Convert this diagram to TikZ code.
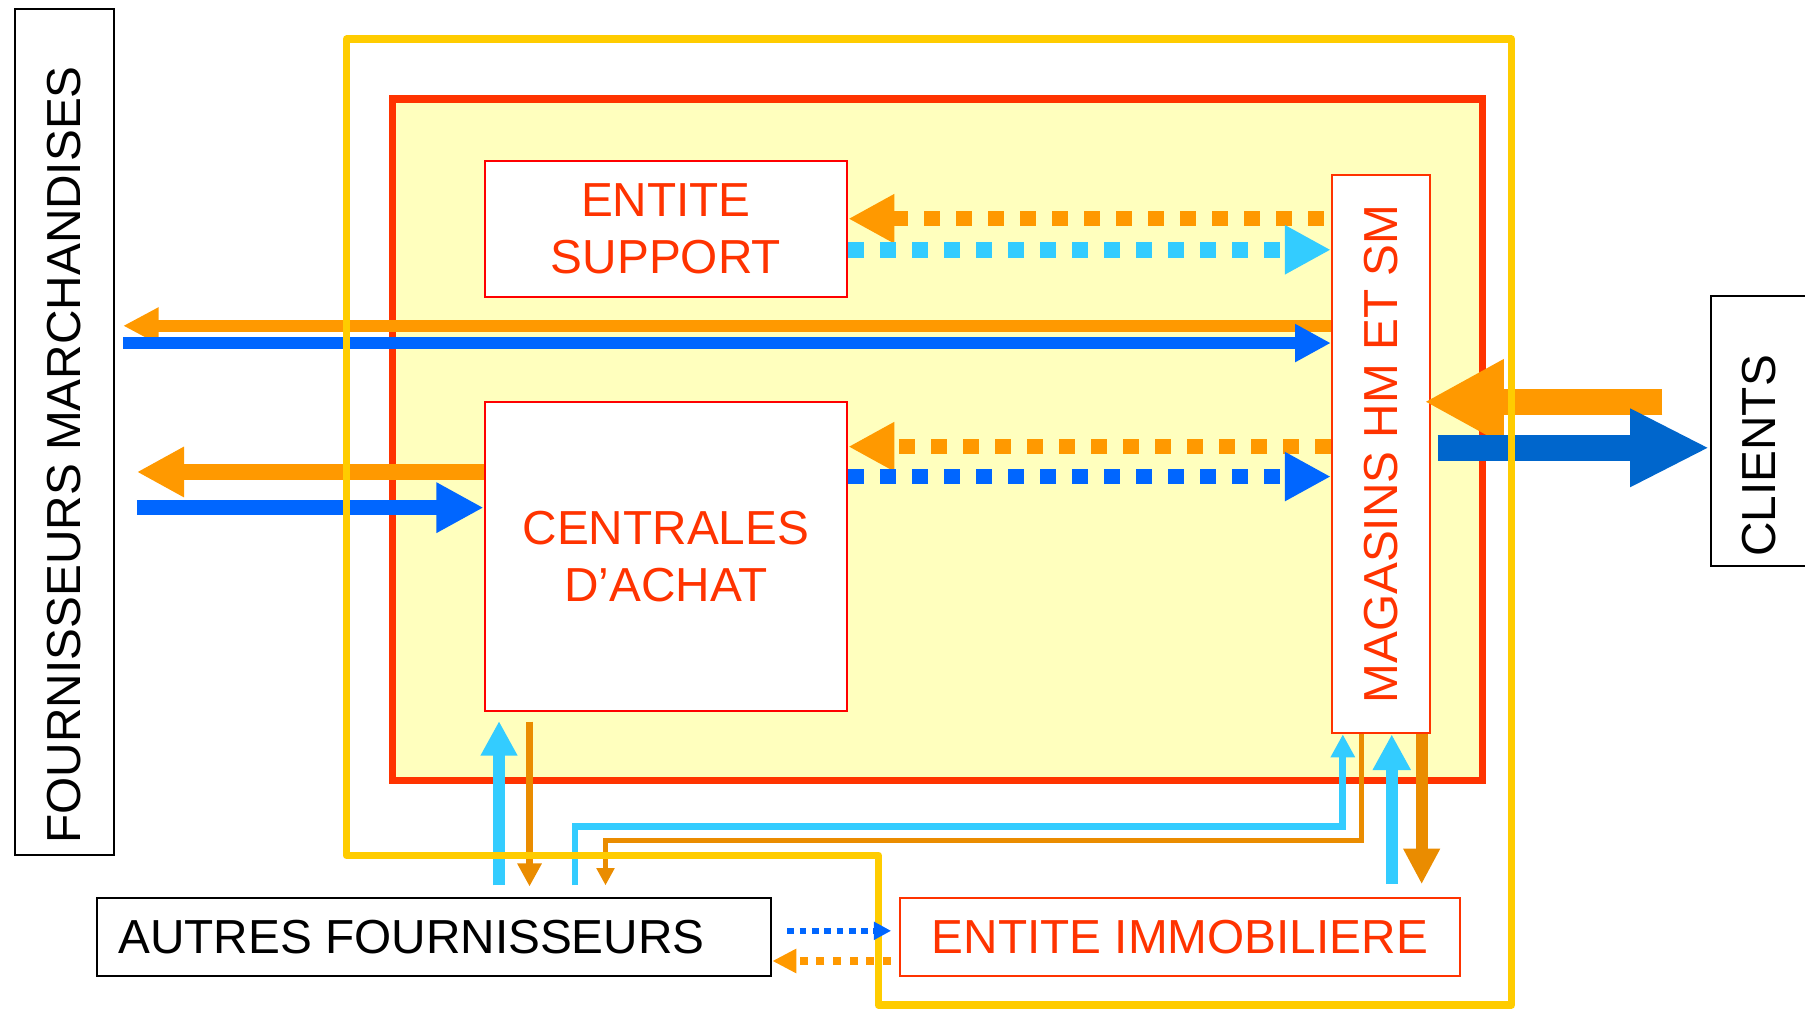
\documentclass[tikz,border=0pt]{standalone}
\usepackage{fontspec}
\setmainfont{Liberation Sans}
\usepackage{graphicx}
\usetikzlibrary{arrows.meta}

\definecolor{flowor}{RGB}{255,153,0}
\definecolor{flowdkor}{RGB}{234,140,0}
\definecolor{flowblue}{RGB}{0,102,255}
\definecolor{flowdkblue}{RGB}{0,102,204}
\definecolor{flowcyan}{RGB}{51,204,255}
\definecolor{framered}{RGB}{255,51,0}
\definecolor{frameyel}{RGB}{255,204,0}
\definecolor{framefill}{RGB}{255,255,190}

\begin{document}
\begin{tikzpicture}[x=0.1mm, y=-0.1mm,
        txt/.style={font=\fontsize{11.8}{14.1}\selectfont, inner sep=0pt},
        redbox/.style={txt, draw=red, line width=0.18mm, fill=white, text=framered},
        blackbox/.style={txt, draw=black, line width=0.18mm, fill=white},
        dots/.style={line width=1.35mm, dash pattern=on 1.37mm off 1.41mm, -{Triangle[length=4mm,width=4mm]}}]
        \clip (0,0) rectangle (1568,876);

        % Group frame
        \filldraw[draw=framered, fill=framefill, line width=0.65mm] (341,86) rectangle (1288,678);

        % Entities
        \node[redbox, align=center, minimum width=31.5mm, minimum height=11.8mm] (sup) at (578.5,199) {ENTITE\\SUPPORT};
        \node[redbox, align=center, minimum width=31.5mm, minimum height=26.9mm] (cen) at (578.5,483.5) {CENTRALES\\D’ACHAT};
        \node[redbox, draw=framered, minimum width=8.5mm, minimum height=48.5mm] (mag) at (1199.5,394.5) {\rotatebox{90}{MAGASINS HM ET SM}};
        \node[redbox, draw=framered, minimum width=48.6mm, minimum height=6.8mm] (imm) at (1025,814) {ENTITE IMMOBILIERE};

        % Outside partners
        \node[blackbox, minimum width=8.6mm, minimum height=73.5mm] (fm) at (56,375.5) {\rotatebox{90}{FOURNISSEURS MARCHANDISES\hspace{3.9mm}}};
        \node[blackbox, minimum width=8.4mm, minimum height=23.5mm] (cli) at (1528,374.5) {\rotatebox{90}{CLIENTS\hspace{4.3mm}}};
        \node[blackbox, minimum width=58.6mm, minimum height=6.8mm] (aut) at (377,814) {AUTRES FOURNISSEURS\kern3.9mm};

        % Flows with the goods suppliers
        \draw[flowor, line width=1mm, -{Triangle[length=3.1mm,width=3mm]}] (mag.west |- 0,283) -- ([xshift=0.7mm]fm.east |- 0,283);
        \draw[flowblue, line width=1mm, -{Triangle[length=3.1mm,width=3.1mm]}] ([xshift=0.7mm]fm.east |- 0,298) -- (mag.west |- 0,298);
        \draw[flowor, line width=1.4mm, -{Triangle[length=4.1mm,width=4.1mm]}] (cen.west |- 0,410) -- ([xshift=1.9mm]fm.east |- 0,410);
        \draw[flowblue, line width=1.3mm, -{Triangle[length=4.1mm,width=4.1mm]}] ([xshift=1.9mm]fm.east |- 0,441) -- (cen.west |- 0,441);

        % Internal flows
        \draw[flowor, dots] ([xshift=-0.6mm]mag.west |- 0,190) -- (sup.east |- 0,190);
        \draw[flowcyan, dots] (sup.east |- 0,217) -- (mag.west |- 0,217);
        \draw[flowor, dots] (mag.west |- 0,388) -- (cen.east |- 0,388);
        \draw[flowblue, dots] (cen.east |- 0,414) -- (mag.west |- 0,414);

        % Flows with the clients
        \draw[flowor, line width=2.25mm, -{Triangle[length=6.9mm,width=6.9mm]}] ([xshift=-4.1mm]cli.west |- 0,349) -- ([xshift=-0.55mm]mag.east |- 0,349);
        \draw[flowdkblue, line width=2.3mm, -{Triangle[length=6.9mm,width=6.3mm]}] ([xshift=0.6mm]mag.east |- 0,389) -- (cli.west |- 0,389);

        % Other suppliers and real estate
        \draw[flowcyan, line width=1.05mm, -{Triangle[length=3mm,width=3mm]}] ([yshift=1mm]aut.north -| 433.5,0) -- ([yshift=-0.75mm]cen.south -| 433.5,0);
        \draw[flowdkor, line width=0.67mm, -{Triangle[length=2mm,width=2mm]}] ([yshift=-0.8mm]cen.south -| 460,0) -- ([yshift=0.9mm]aut.north -| 460,0);
        \draw[flowcyan, line width=0.58mm, -{Triangle[length=2mm,width=2mm]}] ([yshift=1mm]aut.north -| 499.5,0) |- ([yshift=-8mm]mag.south -| 1166.5,0) -- (mag.south -| 1166.5,0);
        \draw[flowdkor, line width=0.45mm, -{Triangle[length=1.5mm,width=1.5mm]}] (mag.south -| 1183,0) -- ([yshift=-9.2mm]mag.south -| 1183,0) -| ([yshift=1mm]aut.north -| 526,0);
        \draw[flowcyan, line width=1mm, -{Triangle[length=3.1mm,width=3.1mm]}] ([yshift=1.1mm]imm.north -| 1209,0) -- (mag.south -| 1209,0);
        \draw[flowdkor, line width=1.05mm, -{Triangle[length=3.1mm,width=3mm]}] (mag.south -| 1235,0) -- ([yshift=1.1mm]imm.north -| 1235,0);

        % Outer perimeter
        \draw[frameyel, line width=0.65mm, line join=round] (301,34) -- (1313,34) -- (1313,873) -- (763,873) -- (763,743) -- (301,743) -- cycle;

        \draw[flowblue, line width=0.55mm, dash pattern=on 0.58mm off 0.49mm, -{Triangle[length=1.5mm,width=1.5mm]}] ([xshift=1.3mm]aut.east |- 0,808.6) -- ([xshift=-0.7mm]imm.west |- 0,808.6);
        \draw[flowor, line width=0.67mm, dash pattern=on 0.7mm off 0.75mm, -{Triangle[length=2.1mm,width=2mm]}] ([xshift=-0.7mm]imm.west |- 0,834.8) -- (aut.east |- 0,834.8);
    \end{tikzpicture}
\end{document}
